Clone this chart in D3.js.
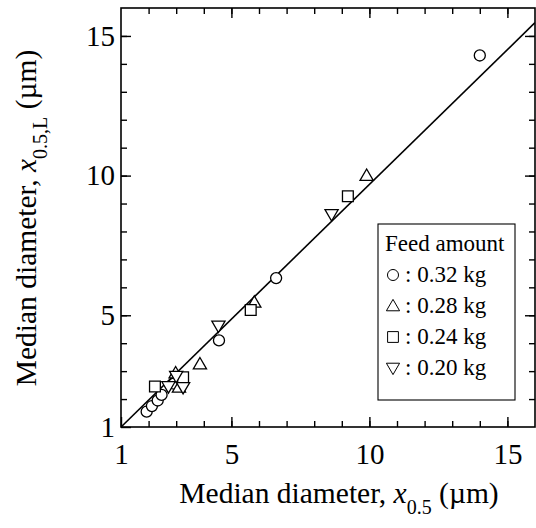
<!DOCTYPE html>
<html>
<head>
<meta charset="utf-8">
<script src="https://cdn.jsdelivr.net/npm/d3@7"></script>
<style>
  html, body { margin: 0; padding: 0; background: #fff; }
  svg { display: block; }
  text { font-family: "Liberation Serif", "Times New Roman", serif; fill: #000; }
</style>
</head>
<body>
<svg id="chart" width="536" height="528"></svg>
<script>
// Median diameter measured (x0.5) vs. estimated (x0.5,L), in µm, per feed amount
const series = [
  { label: "0.32 kg", shape: "circle",
    x: [1.93, 2.12, 2.33, 2.47, 2.92, 4.55, 6.62, 14.0],
    y: [1.55, 1.75, 1.95, 2.15, 2.55, 4.10, 6.33, 14.3] },
  { label: "0.28 kg", shape: "triangleUp",
    x: [2.98, 3.10, 3.86, 5.83, 9.90],
    y: [2.93, 2.42, 3.25, 5.46, 10.0] },
  { label: "0.24 kg", shape: "square",
    x: [2.23, 3.25, 5.70, 9.22],
    y: [2.45, 2.78, 5.19, 9.26] },
  { label: "0.20 kg", shape: "triangleDown",
    x: [2.72, 3.00, 3.25, 4.53, 8.63],
    y: [2.45, 2.82, 2.42, 4.62, 8.61] }
];

// Fitted line y = a*x + b
const fitSlope = 0.965;
const fitIntercept = 0.035;

const axisDomain = [1, 16];
const majorTicks = [1, 5, 10, 15];
const minorTicks = d3.range(2, 16);

const svg = d3.select("#chart");
const x = d3.scaleLinear().domain(axisDomain).range([121, 535]);
const y = d3.scaleLinear().domain(axisDomain).range([427, 8]);

// Marker outline paths centred on (0,0)
function shapePath(shape, s) {
  const p = d3.path();
  if (shape === "circle") {
    p.arc(0, 0, s * 0.46, 0, 2 * Math.PI);
  } else if (shape === "square") {
    const h = s * 0.45;
    p.rect(-h, -h, 2 * h, 2 * h);
  } else {
    const w = s * 0.55, ht = s * 0.95;
    const dir = shape === "triangleUp" ? 1 : -1;
    p.moveTo(0, -dir * ht * 0.58);
    p.lineTo(w, dir * ht * 0.42);
    p.lineTo(-w, dir * ht * 0.42);
    p.closePath();
  }
  return p.toString();
}

const plot = svg.append("g");
plot.append("clipPath").attr("id", "clip")
  .append("rect").attr("x", x(1)).attr("y", y(16))
  .attr("width", x(16) - x(1)).attr("height", y(1) - y(16));

// Fit line
plot.append("line")
  .attr("clip-path", "url(#clip)")
  .attr("x1", x(1)).attr("y1", y(fitSlope * 1 + fitIntercept))
  .attr("x2", x(16)).attr("y2", y(fitSlope * 16 + fitIntercept))
  .attr("stroke", "#000").attr("stroke-width", 1.6);

// Axes: inward ticks on all four sides
function styleAxis(g) {
  g.select(".domain").remove();
  g.selectAll(".tick line").attr("stroke", "#000").attr("stroke-width", 1.4);
}
const minorLen = 6, majorLen = 10;
const tickFont = 29;

svg.append("g").attr("transform", `translate(0,${y(1)})`)
  .call(d3.axisBottom(x).tickValues(minorTicks).tickSize(-minorLen).tickFormat(""))
  .call(styleAxis);
svg.append("g").attr("transform", `translate(0,${y(1)})`)
  .call(d3.axisBottom(x).tickValues(majorTicks).tickSize(-majorLen).tickPadding(16).tickFormat(d3.format("d")))
  .call(styleAxis)
  .selectAll("text").attr("font-size", tickFont).attr("dy", "0.71em");

svg.append("g").attr("transform", `translate(0,${y(16)})`)
  .call(d3.axisTop(x).tickValues(minorTicks).tickSize(-minorLen).tickFormat(""))
  .call(styleAxis);
svg.append("g").attr("transform", `translate(0,${y(16)})`)
  .call(d3.axisTop(x).tickValues(majorTicks.slice(1)).tickSize(-majorLen).tickFormat(""))
  .call(styleAxis);

svg.append("g").attr("transform", `translate(${x(1)},0)`)
  .call(d3.axisLeft(y).tickValues(minorTicks).tickSize(-minorLen).tickFormat(""))
  .call(styleAxis);
svg.append("g").attr("transform", `translate(${x(1)},0)`)
  .call(d3.axisLeft(y).tickValues(majorTicks).tickSize(-majorLen).tickPadding(6).tickFormat(d3.format("d")))
  .call(styleAxis)
  .selectAll("text").attr("font-size", tickFont);

svg.append("g").attr("transform", `translate(${x(16)},0)`)
  .call(d3.axisRight(y).tickValues(minorTicks).tickSize(-minorLen).tickFormat(""))
  .call(styleAxis);
svg.append("g").attr("transform", `translate(${x(16)},0)`)
  .call(d3.axisRight(y).tickValues(majorTicks.slice(1)).tickSize(-majorLen).tickFormat(""))
  .call(styleAxis);

// Frame
svg.append("rect")
  .attr("x", x(1)).attr("y", y(16))
  .attr("width", x(16) - x(1)).attr("height", y(1) - y(16))
  .attr("fill", "none").attr("stroke", "#000").attr("stroke-width", 1.6);

// Data markers
series.forEach(s => {
  plot.append("g").selectAll("path")
    .data(s.x.map((v, i) => [v, s.y[i]]))
    .join("path")
    .attr("transform", d => `translate(${x(d[0])},${y(d[1])})`)
    .attr("d", shapePath(s.shape, 12))
    .attr("fill", "#fff").attr("stroke", "#000").attr("stroke-width", 1.3);
});

// Legend
const lg = svg.append("g");
const lgX = 378, lgY = 224, lgW = 137, lgH = 176;
lg.append("rect").attr("x", lgX).attr("y", lgY).attr("width", lgW).attr("height", lgH)
  .attr("fill", "#fff").attr("stroke", "#000").attr("stroke-width", 1.1);
lg.append("text").attr("x", lgX + 7).attr("y", lgY + 27)
  .attr("font-size", 23).text("Feed amount");
series.forEach((s, i) => {
  const by = lgY + 58 + i * 31;
  lg.append("path")
    .attr("transform", `translate(${lgX + 15},${by - 7})`)
    .attr("d", shapePath(s.shape, 12))
    .attr("fill", "none").attr("stroke", "#000").attr("stroke-width", 1);
  lg.append("text").attr("x", lgX + 27).attr("y", by)
    .attr("font-size", 23).text(": " + s.label);
});

// Axis titles
const titleFont = 29.5, subFont = 20;
const xt = svg.append("text").attr("x", 339).attr("y", 503)
  .attr("text-anchor", "middle").attr("font-size", titleFont);
xt.append("tspan").text("Median diameter, ");
xt.append("tspan").attr("font-style", "italic").text("x");
xt.append("tspan").attr("font-size", subFont).attr("dy", 11).text("0.5");
xt.append("tspan").attr("dy", -11).text(" (\u00b5m)");

const yt = svg.append("text")
  .attr("transform", "translate(36,218) rotate(-90)")
  .attr("text-anchor", "middle").attr("font-size", titleFont);
yt.append("tspan").text("Median diameter, ");
yt.append("tspan").attr("font-style", "italic").text("x");
yt.append("tspan").attr("font-size", subFont).attr("dy", 11).text("0.5,L");
yt.append("tspan").attr("dy", -11).text(" (\u00b5m)");
</script>
</body>
</html>
